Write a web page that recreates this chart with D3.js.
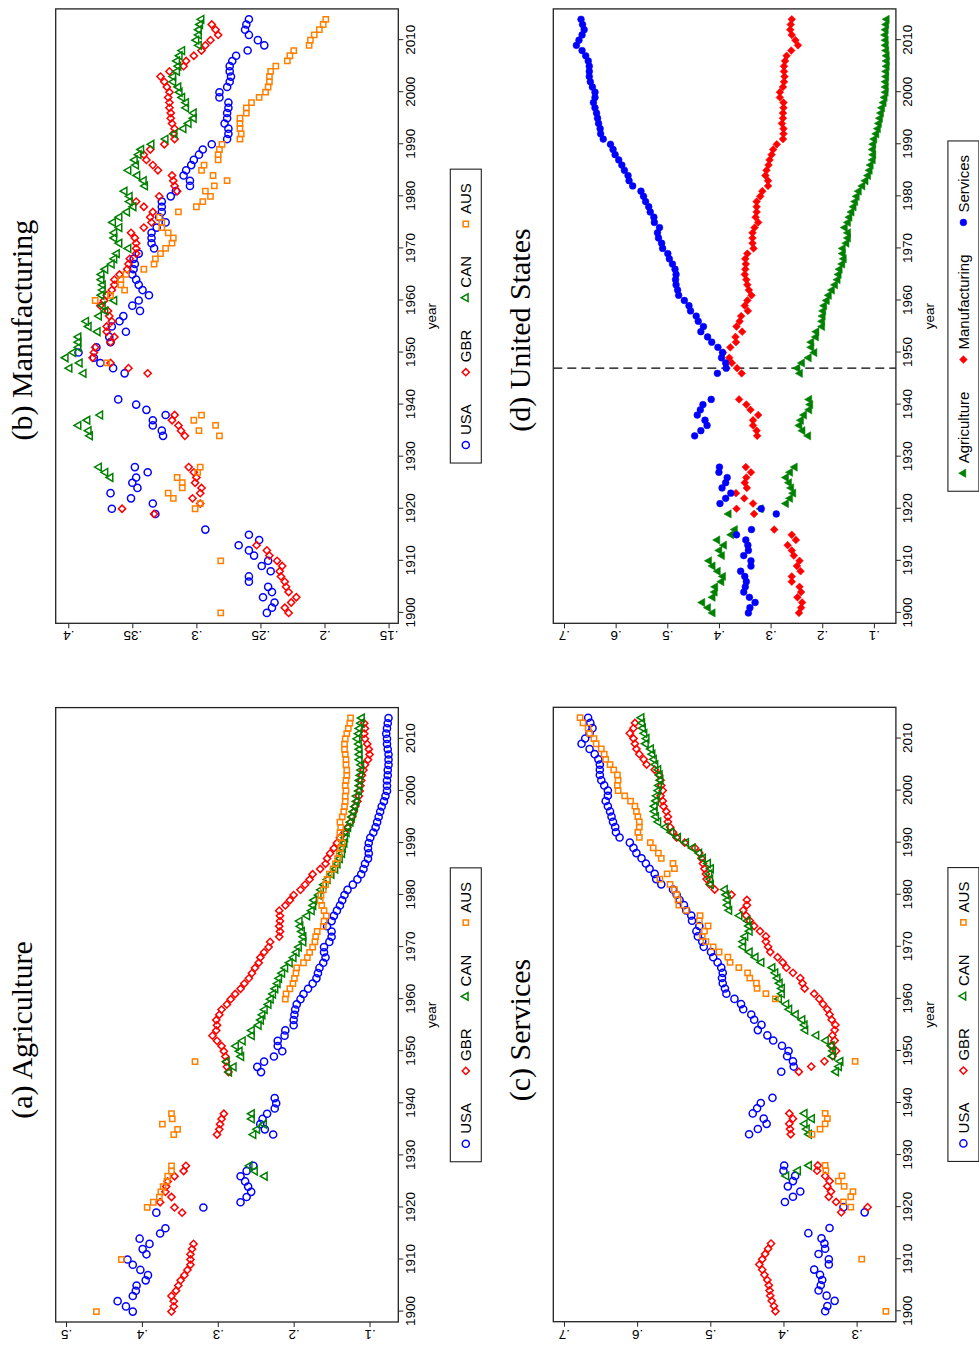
<!DOCTYPE html>
<html>
<head>
<meta charset="utf-8">
<script src="https://cdn.jsdelivr.net/npm/d3@7"></script>
<style>
  html, body { margin: 0; padding: 0; background: #fff; }
  svg { display: block; }
</style>
</head>
<body>
<svg id="fig" width="979" height="1359"></svg>
<script>
// ---- Years covered by each country (inclusive spans) ----
const usaSpans = [[1900, 1916], [1919, 1928], [1934, 1941], [1946, 2014]];
const gbrSpans = [[1900, 1913], [1919, 1928], [1934, 1938], [1946, 2013]];
const canSpans = [[1926, 1928], [1934, 1938], [1946, 2014]];
const ausSpans = [[1900, 1900], [1910, 1910], [1920, 1928], [1934, 1938], [1948, 1948], [1960, 2014]];

const yearTicks = [1900, 1910, 1920, 1930, 1940, 1950, 1960, 1970, 1980, 1990, 2000, 2010];

// ---- Sector shares: United States ----
const usaAgri = [
  .412, .421, .432, .412, .408, .407, .395, .392, .402, .412, .419, .394, .399, .390, .403, .376, .369,
  .381, .319, .270, .262, .256, .260, .264, .270, .262, .253,
  .227, .238, .244, .241, .235, .225, .223, .225,
  .243, .248, .239, .226, .215, .221, .221, .212, .211, .200,
  .200, .199, .198, .196, .191, .187, .181, .175, .170, .168,
  .166, .161, .158, .160, .160, .153, .150, .150, .156, .150,
  .147, .143, .139, .136, .133, .129, .122, .116, .111, .108,
  .106, .102, .101, .102, .101, .099, .095, .092, .090, .088,
  .086, .084, .081, .079, .077, .077, .077, .076, .076, .075,
  .075, .075, .076, .077, .077, .078, .077, .076, .075
];
const usaManu = [
  .245, .241, .239, .248, .241, .244, .259, .259, .242, .249, .244, .255, .259, .267, .251, .259, .293,
  .332, .366, .334, .351, .367, .346, .350, .347, .338, .348,
  .326, .327, .334, .334, .324, .339, .347, .361,
  .356, .365, .375, .380, .392, .378, .367, .368, .355, .366,
  .360, .357, .344, .350, .345, .337, .342, .345, .347, .350,
  .349, .348, .349, .345, .333, .335, .335, .335, .331, .324,
  .329, .327, .327, .327, .320, .316, .305, .305, .310, .308,
  .304, .302, .298, .295, .288, .276, .275, .275, .278, .276,
  .276, .275, .275, .282, .282, .276, .274, .273, .274, .274,
  .272, .269, .260, .247, .252, .259, .262, .261, .259
];
const usaServ = [
  .343, .340, .330, .341, .352, .349, .347, .350, .358, .338, .338, .352, .343, .344, .348, .366, .337,
  .289, .318, .398, .387, .377, .394, .387, .384, .400, .399,
  .447, .435, .423, .427, .442, .436, .431, .415,
  .403, .386, .387, .395, .393, .402, .414, .422, .435, .430,
  .440, .444, .455, .458, .467, .478, .480, .483, .484, .483,
  .485, .490, .496, .499, .509, .511, .517, .519, .515, .525,
  .526, .533, .536, .542, .546, .551, .567, .574, .576, .583,
  .588, .594, .601, .605, .610, .624, .629, .630, .633, .635,
  .637, .640, .643, .640, .640, .645, .649, .651, .651, .651,
  .653, .658, .665, .676, .671, .665, .661, .664, .667
];

// ---- United Kingdom ----
const gbrAgri = [
  .361, .358, .358, .361, .355, .352, .349, .344, .340, .336, .336, .336, .334, .332,
  .347, .357, .376, .361, .369, .368, .366, .357, .345, .342,
  .301, .298, .297, .295, .292,
  .286, .288, .289, .290, .292, .295, .301, .307, .302, .301,
  .302, .298, .295, .288, .283, .277, .270, .265, .259, .255,
  .251, .246, .244, .239, .233, .231, .219, .218, .219, .218,
  .218, .219, .211, .205, .200, .191, .185, .179, .175, .165,
  .158, .156, .152, .147, .143, .139, .133, .129, .125, .123,
  .121, .119, .116, .114, .113, .112, .111, .110, .108, .106,
  .102, .100, .101, .103, .106, .107, .106, .107
];
const gbrManu = [
  .228, .231, .226, .222, .228, .230, .231, .234, .235, .233, .237, .243, .245, .253,
  .333, .358, .297, .303, .297, .296, .301, .300, .302, .306,
  .309, .312, .314, .319, .317,
  .338, .353, .367, .381, .380, .379, .367, .364, .370, .370,
  .366, .368, .369, .375, .372, .370, .366, .364, .364, .360,
  .354, .353, .352, .347, .347, .347, .348, .351, .341, .335,
  .336, .334, .341, .347, .329, .315, .317, .318, .319, .330,
  .334, .339, .341, .336, .325, .317, .318, .317, .319, .320,
  .320, .321, .321, .322, .321, .323, .325, .328, .321, .310,
  .308, .302, .296, .293, .289, .283, .285, .288
];
const gbrServ = [
  .411, .413, .416, .418, .419, .420, .422, .426, .429, .433, .429, .425, .421, .417,
  .321, .285, .328, .338, .335, .340, .337, .343, .354, .353,
  .390, .391, .392, .387, .392,
  .379, .362, .344, .333, .328, .335, .330, .333, .330, .329,
  .334, .337, .340, .346, .351, .358, .371, .374, .377, .387,
  .396, .401, .408, .418, .421, .424, .424, .432, .440, .446,
  .451, .455, .450, .450, .471, .494, .501, .505, .506, .508,
  .510, .512, .515, .521, .535, .546, .551, .555, .558, .558,
  .560, .564, .565, .568, .565, .567, .568, .570, .576, .587,
  .591, .597, .601, .603, .605, .610, .605, .603
];

// ---- Canada ----
const canAgri = [
  .238, .251, .258,
  .253, .248, .239, .255, .255,
  .285, .279, .288, .269, .271, .276, .267, .255, .255, .246,
  .243, .241, .238, .233, .230, .227, .224, .221, .219, .215,
  .211, .205, .200, .196, .193, .187, .187, .189, .191, .192,
  .182, .176, .174, .173, .167, .164, .160, .155, .150, .145,
  .142, .139, .136, .135, .133, .132, .130, .128, .125, .123,
  .121, .119, .117, .117, .114, .113, .113, .112, .111, .111,
  .113, .113, .113, .114, .116, .114, .113, .111, .110
];
const canManu = [
  .367, .371, .376,
  .383, .384, .392, .385, .375,
  .388, .399, .391, .402, .396, .392, .392, .392, .377, .384,
  .386, .376, .371, .373, .364, .374, .373, .373, .374, .374,
  .371, .366, .364, .362, .353, .360, .364, .364, .360, .365,
  .360, .354, .349, .352, .352, .356, .340, .341, .346, .353,
  .347, .348, .345, .343, .335, .324, .317, .310, .306, .302,
  .302, .308, .308, .311, .313, .314, .318, .318, .315, .314,
  .315, .313, .311, .298, .300, .298, .298, .297, .296
];
const canServ = [
  .396, .380, .365,
  .365, .368, .371, .361, .371,
  .328, .324, .322, .333, .332, .334, .342, .355, .370, .371,
  .374, .383, .392, .396, .406, .402, .402, .405, .408, .411,
  .415, .430, .438, .446, .455, .455, .452, .446, .447, .449,
  .460, .474, .476, .476, .478, .480, .499, .500, .501, .499,
  .503, .510, .515, .524, .533, .544, .553, .561, .571, .574,
  .576, .576, .574, .573, .571, .570, .568, .569, .571, .575,
  .577, .579, .581, .588, .587, .590, .592, .593, .594
];

// ---- Australia ----
const ausAgri = [
  .460, .427,
  .393, .385, .377, .375, .372, .367, .366, .361, .361,
  .358, .353, .373, .360, .361,
  .330,
  .211, .210, .205, .201, .199, .197, .196, .187, .182, .179,
  .175, .172, .171, .169, .161, .160, .157, .160, .163, .165,
  .164, .161, .158, .156, .153, .148, .145, .142, .140, .138,
  .136, .139, .139, .138, .139, .136, .134, .133, .132, .132,
  .131, .132, .131, .130, .130, .131, .131, .132, .133, .133,
  .132, .130, .128, .126, .125
];
const ausManu = [
  .281, .281,
  .301, .297, .318, .322, .311, .311, .315, .299, .297,
  .282, .298, .285, .302, .296,
  .370,
  .379, .367, .356, .359, .359, .355, .341, .333, .332, .328,
  .324, .319, .318, .322, .327, .327, .329, .314, .300, .295,
  .289, .293, .286, .276, .287, .296, .294, .283, .283, .282,
  .280, .266, .265, .266, .266, .266, .261, .261, .257, .251,
  .246, .244, .243, .243, .242, .238, .229, .227, .224, .212,
  .211, .208, .204, .201, .199
];
const ausServ = [
  .260, .293,
  .308, .318, .308, .305, .317, .325, .320, .342, .343,
  .361, .350, .343, .340, .343,
  .302,
  .411, .424, .436, .437, .446, .449, .461, .473, .476, .488,
  .496, .506, .511, .508, .503, .515, .514, .533, .543, .544,
  .546, .549, .555, .569, .559, .549, .551, .567, .571, .578,
  .582, .597, .599, .597, .597, .599, .601, .603, .609, .617,
  .626, .627, .626, .627, .632, .637, .643, .645, .649, .656,
  .659, .665, .667, .674, .678
];

// ---- Helpers ----
const expand = spans => spans.flatMap(([a, b]) => d3.range(a, b + 1));
const usaYears = expand(usaSpans), gbrYears = expand(gbrSpans);
const canYears = expand(canSpans), ausYears = expand(ausSpans);

function series(years, vals, name) {
  if (years.length !== vals.length) throw new Error(name + ': ' + years.length + ' years vs ' + vals.length + ' values');
  return years.map((yr, i) => ({ yr, v: vals[i] }));
}

const SANS = '"Liberation Sans", Arial, Helvetica, sans-serif';
const SERIF = '"Liberation Serif", "Times New Roman", serif';
const INK = '#222';

const colors = { USA: '#0000ff', GBR: '#ff0000', CAN: '#008000', AUS: '#ff8000' };

// hollow marker styles (country panels) and solid ones (US sector panel)
const hollow = {
  circle:   { type: d3.symbolCircle,   size: 40, rot: 0 },
  diamond:  { type: d3.symbolSquare,   size: 26, rot: 45 },
  triangle: { type: d3.symbolTriangle, size: 26, rot: 0 },
  square:   { type: d3.symbolSquare,   size: 28, rot: 0 }
};
const solid = {
  circle:   { type: d3.symbolCircle,   size: 36, rot: 0 },
  diamond:  { type: d3.symbolSquare,   size: 30, rot: 45 },
  triangle: { type: d3.symbolTriangle, size: 30, rot: 0 }
};

const countryKeys = [
  { label: 'USA', color: colors.USA, shape: 'circle' },
  { label: 'GBR', color: colors.GBR, shape: 'diamond' },
  { label: 'CAN', color: colors.CAN, shape: 'triangle' },
  { label: 'AUS', color: colors.AUS, shape: 'square' }
];
const sectorKeys = [
  { label: 'Agriculture',   color: '#008000', shape: 'triangle' },
  { label: 'Manufacturing', color: '#ff0000', shape: 'diamond' },
  { label: 'Services',      color: '#0000ff', shape: 'circle' }
];

// ---- Page: the figure is laid out in landscape and turned a quarter turn ----
const svg = d3.select('#fig');
const page = svg.append('g').attr('transform', 'translate(0,1359) rotate(-90)');

const PW = 614.4, PH = 342.6;
const yearDomain = [1898, 2016];
const fmtShare = v => String(v).replace(/^0/, '');

function markPath(g, st, filled, color, x, y) {
  g.append('path')
    .attr('d', d3.symbol(st.type, st.size)())
    .attr('transform', `translate(${x},${y}) rotate(${st.rot})`)
    .attr('fill', filled ? color : 'none')
    .attr('stroke', color)
    .attr('stroke-width', filled ? 0.5 : 1.5);
}

function drawPanel(p) {
  const g = page.append('g');
  const x = d3.scaleLinear().domain(yearDomain).range([p.x0, p.x0 + PW]);
  const y = d3.scaleLinear().domain(p.vdom).range([p.y0 + PH, p.y0]);

  // year axis
  const xa = g.append('g')
    .attr('transform', `translate(0,${p.y0 + PH})`)
    .call(d3.axisBottom(x).tickValues(yearTicks).tickFormat(d3.format('d')).tickSize(5).tickPadding(2));
  xa.select('.domain').remove();
  xa.selectAll('line').attr('stroke', INK);
  xa.selectAll('text').attr('font-size', 13.5).attr('font-family', SANS).attr('fill', '#000');

  // share axis (labels set vertically)
  const ya = g.append('g')
    .attr('transform', `translate(${p.x0},0)`)
    .call(d3.axisLeft(y).tickValues(p.ticks).tickFormat(fmtShare).tickSize(5));
  ya.select('.domain').remove();
  ya.selectAll('line').attr('stroke', INK);
  ya.selectAll('text')
    .attr('dy', null).attr('x', 0).attr('y', -8)
    .attr('transform', 'rotate(-90)')
    .attr('text-anchor', 'middle')
    .attr('font-size', 13.5).attr('font-family', SANS).attr('fill', '#000');

  // axis title
  g.append('text')
    .attr('x', p.x0 + PW / 2).attr('y', p.y0 + PH + 38)
    .attr('text-anchor', 'middle')
    .attr('font-family', SANS).attr('font-size', 13.5)
    .text('year');

  // reference line
  if (p.vline) {
    g.append('line')
      .attr('x1', x(p.vline)).attr('x2', x(p.vline))
      .attr('y1', p.y0).attr('y2', p.y0 + PH)
      .attr('stroke', '#000').attr('stroke-width', 1.4)
      .attr('stroke-dasharray', '9,5');
  }

  // markers
  const mk = g.append('g');
  p.layers.forEach(layer => {
    const st = (p.filled ? solid : hollow)[layer.key.shape];
    layer.data.forEach(d => markPath(mk, st, p.filled, layer.key.color, x(d.yr), y(d.v)));
  });

  // frame
  g.append('rect')
    .attr('x', p.x0).attr('y', p.y0).attr('width', PW).attr('height', PH)
    .attr('fill', 'none').attr('stroke', INK).attr('stroke-width', 1.3);

  // panel title
  page.append('text')
    .attr('x', p.titleX).attr('y', p.titleY)
    .attr('text-anchor', 'middle')
    .attr('font-family', SERIF).attr('font-size', 30)
    .text(p.title);

  // legend
  drawLegend(p.x0 + PW / 2, p.y0 + PH + 52, 31, p.layers.map(l => l.key), p.filled);
}

function drawLegend(cx, top, h, keys, filled) {
  const lg = page.append('g');
  const pad = 14, mw = 8, tg = 6, gap = 28;
  let pos = 0;
  const items = keys.map((k, i) => {
    const t = lg.append('text').attr('font-family', SANS).attr('font-size', 15).text(k.label);
    const w = t.node().getComputedTextLength();
    const it = { k, t, mx: pos + mw / 2, tx: pos + mw + tg };
    pos += mw + tg + w + (i < keys.length - 1 ? gap : 0);
    return it;
  });
  const bw = pos + 2 * pad;
  const left = cx - bw / 2;
  lg.insert('rect', ':first-child')
    .attr('x', left).attr('y', top).attr('width', bw).attr('height', h)
    .attr('fill', '#fff').attr('stroke', INK).attr('stroke-width', 1.1);
  items.forEach(it => {
    const st = (filled ? solid : hollow)[it.k.shape];
    markPath(lg, st, filled, it.k.color, left + pad + it.mx, top + h / 2);
    it.t.attr('x', left + pad + it.tx).attr('y', top + h / 2 + 5.3);
  });
}

const usaA = series(usaYears, usaAgri, 'usaAgri'), usaM = series(usaYears, usaManu, 'usaManu'), usaS = series(usaYears, usaServ, 'usaServ');
const gbrA = series(gbrYears, gbrAgri, 'gbrAgri'), gbrM = series(gbrYears, gbrManu, 'gbrManu'), gbrS = series(gbrYears, gbrServ, 'gbrServ');
const canA = series(canYears, canAgri, 'canAgri'), canM = series(canYears, canManu, 'canManu'), canS = series(canYears, canServ, 'canServ');
const ausA = series(ausYears, ausAgri, 'ausAgri'), ausM = series(ausYears, ausManu, 'ausManu'), ausS = series(ausYears, ausServ, 'ausServ');

const byCountry = (a, b, c, d) => [
  { key: countryKeys[0], data: a }, { key: countryKeys[1], data: b },
  { key: countryKeys[2], data: c }, { key: countryKeys[3], data: d }
];

const panels = [
  { title: '(a) Agriculture', x0: 37, y0: 55.7, vdom: [0.0621, 0.5136],
    ticks: [0.1, 0.2, 0.3, 0.4, 0.5], titleX: 329, titleY: 32,
    layers: byCountry(usaA, gbrA, canA, ausA) },
  { title: '(b) Manufacturing', x0: 735.7, y0: 55.7, vdom: [0.1424, 0.4098],
    ticks: [0.15, 0.2, 0.25, 0.3, 0.35, 0.4], titleX: 1029, titleY: 32,
    layers: byCountry(usaM, gbrM, canM, ausM) },
  { title: '(c) Services', x0: 37.3, y0: 553.3, vdom: [0.2463, 0.7146],
    ticks: [0.3, 0.4, 0.5, 0.6, 0.7], titleX: 329, titleY: 530,
    layers: byCountry(usaS, gbrS, canS, ausS) },
  { title: '(d) United States', x0: 735.7, y0: 553.3, vdom: [0.0574, 0.7207],
    ticks: [0.1, 0.2, 0.3, 0.4, 0.5, 0.6, 0.7], titleX: 1029, titleY: 530,
    filled: true, vline: 1947,
    layers: [
      { key: sectorKeys[0], data: usaA },
      { key: sectorKeys[1], data: usaM },
      { key: sectorKeys[2], data: usaS }
    ] }
];

panels.forEach(drawPanel);
</script>
</body>
</html>
